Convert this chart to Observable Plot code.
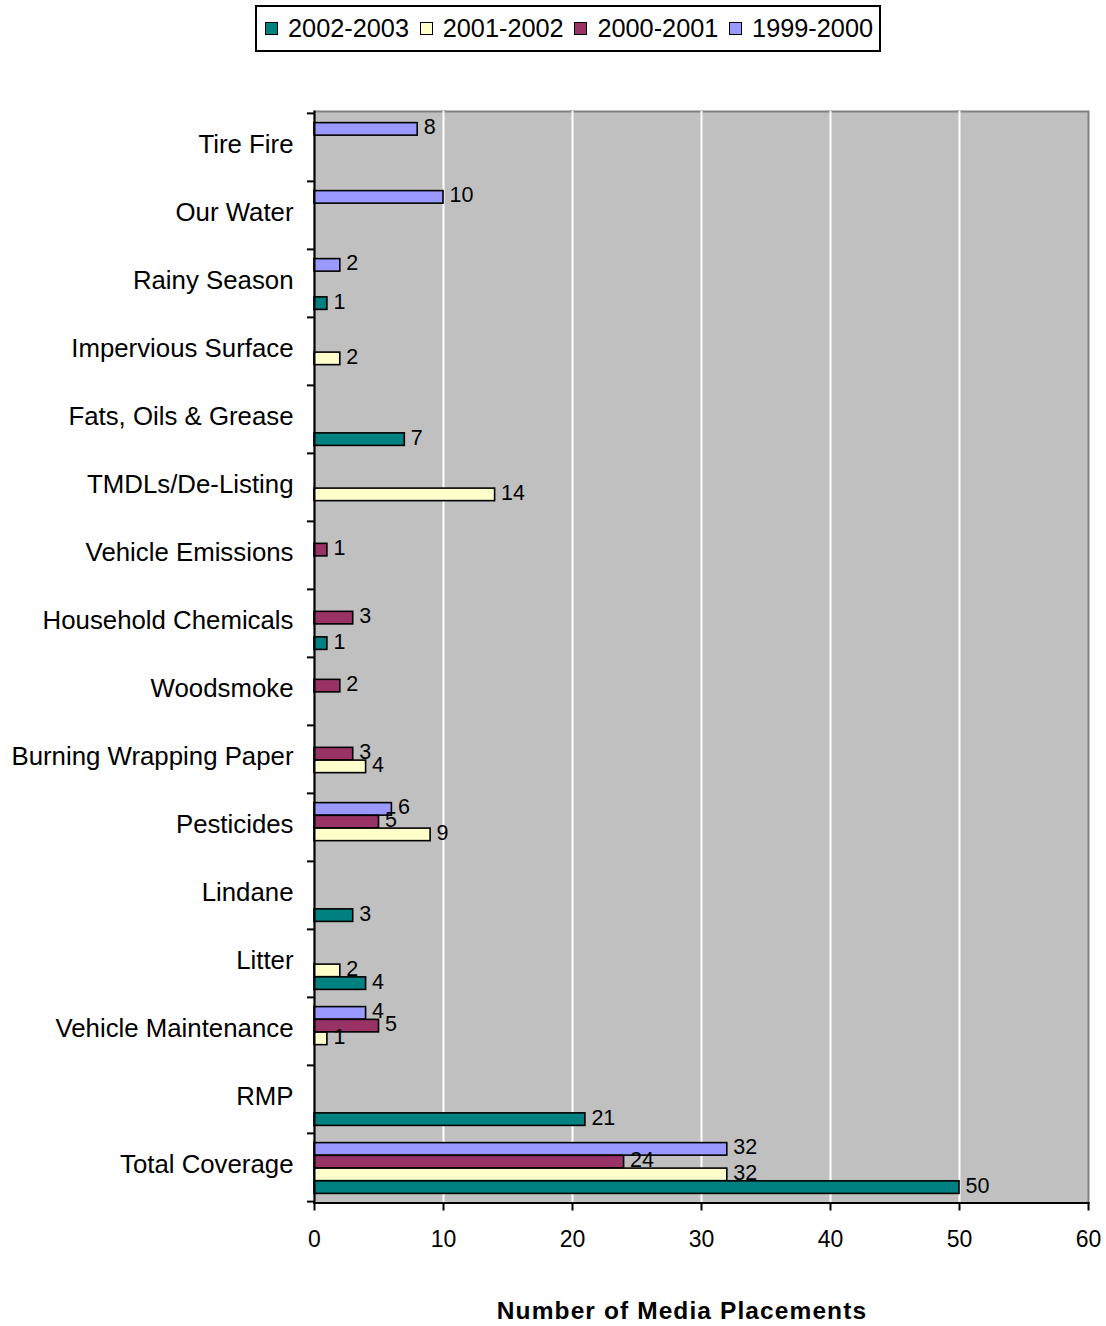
<!DOCTYPE html>
<html>
<head>
<meta charset="utf-8">
<script src="https://cdn.jsdelivr.net/npm/d3@7"></script>
<script src="https://cdn.jsdelivr.net/npm/@observablehq/plot@0.6"></script>
<style>
  body { margin: 0; background: #fff; font-family: "Liberation Sans", Arial, sans-serif; }
  #wrap { position: relative; width: 1106px; height: 1326px; }
  #legend { position: absolute; left: 255px; top: 5px; width: 622px; height: 43px;
    border: 2px solid #000; font-size: 25.3px; color: #000; }
  .sw { position: absolute; top: 15px; width: 11px; height: 11px; border: 1.5px solid #000; }
  .lt { position: absolute; top: 6px; line-height: 30px; white-space: nowrap; }
  #chart { position: absolute; left: 0; top: 60px; }
  #xtitle { position: absolute; top: 1297px; left: 682px; transform: translateX(-50%);
    font-weight: bold; font-size: 24.5px; letter-spacing: 1.1px; white-space: nowrap; }
</style>
</head>
<body>
<div id="wrap">
  <div id="legend"></div>
  <div id="chart"></div>
  <div id="xtitle">Number of Media Placements</div>
</div>
<script>
const categories = ["Tire Fire", "Our Water", "Rainy Season", "Impervious Surface", "Fats, Oils & Grease",
  "TMDLs/De-Listing", "Vehicle Emissions", "Household Chemicals", "Woodsmoke", "Burning Wrapping Paper",
  "Pesticides", "Lindane", "Litter", "Vehicle Maintenance", "RMP", "Total Coverage"];
const series = ["1999-2000", "2000-2001", "2001-2002", "2002-2003"];
const colors = ["#9999FF", "#993366", "#FFFFCC", "#008080"];
const v1999 = [8, 10, 2, null, null, null, null, null, null, null, 6, null, null, 4, null, 32];
const v2000 = [null, null, null, null, null, null, 1, 3, 2, 3, 5, null, null, 5, null, 24];
const v2001 = [null, null, null, 2, null, 14, null, null, null, 4, 9, null, 2, 1, null, 32];
const v2002 = [null, null, 1, null, 7, null, null, 1, null, null, null, 3, 4, null, 21, 50];
const xTicks = [0, 10, 20, 30, 40, 50, 60];
const legendOrder = ["2002-2003", "2001-2002", "2000-2001", "1999-2000"];

const values = [v1999, v2000, v2001, v2002];

// legend
const legend = document.getElementById("legend");
legendOrder.forEach((s, i) => {
  const x0 = 8 + i * 154.7;
  const sw = document.createElement("div");
  sw.className = "sw";
  sw.style.left = x0 + "px";
  sw.style.background = colors[series.indexOf(s)];
  const t = document.createElement("div");
  t.className = "lt";
  t.style.left = (x0 + 23) + "px";
  t.textContent = s;
  legend.appendChild(sw); legend.appendChild(t);
});

const marginTop = 51, marginBottom = 70, marginLeft = 314, marginRight = 18;
const plotH = 1091.5;
const band = plotH / categories.length;
const barH = 12.75;
const inset = (band - barH) / 2;

const rows = values.map(vals => categories.map((c, j) => ({category: c, value: vals[j]})).filter(d => d.value != null));

const bars = rows.map((data, i) => Plot.barX(data, {
  x: "value", y: "category", fill: colors[i], stroke: "#000", strokeWidth: 1.6,
  insetTop: inset, insetBottom: inset, dy: (i - 1.5) * barH + 1
}));
const labels = rows.map((data, i) => Plot.text(data, {
  x: "value", y: "category", text: d => String(d.value), textAnchor: "start",
  dx: 6, dy: (i - 1.5) * barH - 1, fontSize: 21.5, fill: "#000"
}));

const chart = Plot.plot({
  width: 1106,
  height: marginTop + plotH + marginBottom,
  marginTop, marginBottom, marginLeft, marginRight,
  x: {domain: [0, 60], axis: null},
  y: {domain: categories, padding: 0, axis: null},
  style: {fontFamily: '"Liberation Sans", Arial, sans-serif', background: "transparent", color: "#000"},
  marks: [
    Plot.frame({fill: "#C0C0C0", stroke: "#808080", strokeWidth: 2}),
    Plot.gridX(xTicks.slice(1, -1), {stroke: "#fff", strokeOpacity: 1, strokeWidth: 2}),
    ...bars,
    Plot.frame({anchor: "left", stroke: "#000", strokeWidth: 2}),
    Plot.frame({anchor: "bottom", stroke: "#000", strokeWidth: 2}),
    Plot.axisX({ticks: xTicks, tickSize: 8, tickPadding: 20, fontSize: 23, tickFormat: d => String(d), stroke: "#000", strokeWidth: 2, label: null}),
    Plot.axisY({tickSize: 7, tickFormat: () => null, dy: -band / 2, stroke: "#000", strokeWidth: 2, label: null}),
    Plot.axisY({ticks: [categories[categories.length - 1]], tickSize: 7, tickFormat: () => null, dy: band / 2, stroke: "#000", strokeWidth: 2, label: null}),
    Plot.axisY({tickSize: 0, tickPadding: 21, fontSize: 25.8, dy: -3, label: null}),
    ...labels
  ]
});
document.getElementById("chart").appendChild(chart);
</script>
</body>
</html>
